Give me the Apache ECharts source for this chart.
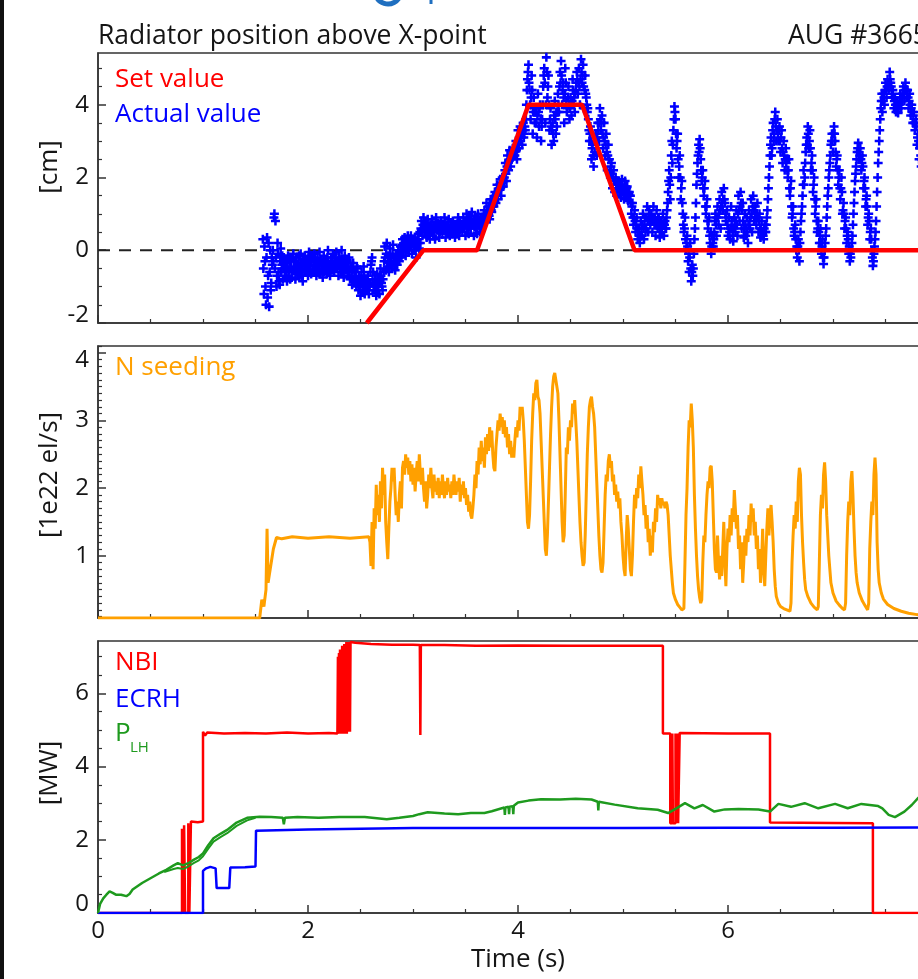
<!DOCTYPE html>
<html><head><meta charset="utf-8">
<script src="https://cdn.jsdelivr.net/npm/echarts@6/dist/echarts.min.js"></script>
<style>html,body{margin:0;padding:0;background:#fff;overflow:hidden}#c{width:918px;height:979px}</style>
</head><body><div id="c"></div>
<script>
// ---------------- DATA ----------------
const timeMin = 0, timeMax = 8;

// Panel 1: radiator position [cm]
const p1Ticks = [-2, 0, 2, 4];
const p1Minor = [-1.5, -1, -0.5, 0.5, 1, 1.5, 2.5, 3, 3.5, 4.5, 5];
const setTime  = [2.56, 3.10, 3.61, 4.10, 4.61, 5.11, 8.0];
const setValue = [-2, 0, 0, 4, 4, 0, 0];
// actual value samples: series A at t = 1.570 + 0.01 i, series B at t = 1.575 + 0.01 i
const actualStartA = 1.57, actualStartB = 1.575, actualStep = 0.01;
const actualValuesA = [
 0.3,-1.2,-0.3,-1.5,0.35,-0.7,-1.55,0.0,-0.9,-0.4,
 -0.3,1.0,0.8,-1.0,0.2,-0.6,-0.95,0.05,-0.4,-0.8,
 -0.2,-0.7,-0.35,-0.85,-0.15,-0.55,-0.8,-0.3,-0.6,-0.1,
 -0.5,-0.8,-0.2,-0.65,-0.35,-0.75,-0.1,-0.5,-0.85,-0.3,
 -0.15,-0.6,-0.35,-0.7,-0.05,-0.45,-0.65,-0.25,-0.55,-0.1,
 -0.4,-0.7,-0.2,-0.55,-0.05,-0.6,-0.3,-0.75,-0.15,-0.5,
 -0.3,-0.65,0.0,-0.45,-0.7,-0.2,-0.55,-0.1,-0.6,-0.35,
 -0.05,-0.5,-0.7,-0.25,-0.6,0.0,-0.4,-0.75,-0.15,-0.55,
 -0.3,-0.7,-0.2,-0.8,-0.5,-0.95,-0.35,-0.85,-0.6,-1.0,
 -0.5,-1.1,-0.7,-1.25,-0.6,-1.0,-0.45,-1.2,-0.8,-1.1,
 -0.7,-1.2,-0.9,-0.4,-0.2,-0.6,-1.1,-0.8,-1.25,-0.65,
 -1.0,-1.2,-0.5,-0.9,-1.1,-0.6,0.1,-0.55,0.2,-0.3,
 -0.6,0.05,-0.3,-0.5,0.15,-0.2,-0.55,-0.1,-0.4,0.0,
 -0.3,0.1,-0.2,0.3,-0.05,0.35,-0.15,0.2,0.4,0.0,
 0.1,0.4,-0.1,0.3,0.0,0.35,-0.2,0.2,0.45,0.05,
 0.2,0.8,0.4,0.9,0.5,0.75,0.35,0.85,0.6,0.3,
 0.5,0.85,0.4,0.7,0.3,0.9,0.55,0.75,0.35,0.65,
 0.8,0.45,0.6,0.9,0.35,0.7,0.5,0.85,0.4,0.65,
 0.45,0.8,0.55,0.35,0.7,0.5,0.9,0.4,0.75,0.6,
 0.5,0.9,0.65,0.4,1.0,0.7,0.45,0.85,0.6,1.05,
 0.7,0.4,0.95,0.6,0.45,1.0,0.75,0.5,0.9,0.65,
 0.7,1.1,0.8,1.3,0.9,1.2,0.85,1.4,1.05,1.35,
 1.2,1.6,1.3,1.8,1.4,1.7,1.95,1.5,2.0,1.75,
 2.0,2.4,1.9,2.6,2.2,2.75,2.3,2.5,2.8,2.6,
 2.6,3.0,2.5,3.3,2.8,3.4,3.1,2.9,3.5,3.2,
 3.3,4.0,4.7,5.1,4.4,3.6,4.8,3.2,4.2,3.5,
 3.8,3.1,4.3,3.4,4.0,3.0,3.6,4.5,5.0,3.5,
 5.3,4.2,4.8,3.3,3.9,2.9,3.5,3.0,4.1,3.2,
 3.4,4.3,3.8,4.9,5.2,4.0,4.6,3.5,5.0,4.1,
 3.9,4.5,3.6,4.2,3.7,4.7,4.0,3.8,4.4,4.9,
 4.3,5.0,4.0,5.25,4.6,5.1,3.9,4.8,4.2,3.8,
 3.6,3.0,3.4,2.5,2.9,2.3,2.7,3.2,2.6,3.5,
 3.0,3.9,3.3,3.7,2.8,3.5,2.6,3.2,2.2,2.9,
 2.5,2.0,2.4,1.7,2.2,1.6,2.0,1.5,1.9,1.7,
 1.8,1.45,1.95,1.6,1.4,1.9,1.55,1.75,1.35,1.6,
 1.5,1.0,1.3,0.7,1.1,0.5,0.9,0.3,0.6,0.2,
 0.8,0.4,1.0,0.3,0.9,0.6,1.2,0.5,1.1,0.7,
 1.0,0.5,1.2,0.7,0.4,1.1,0.6,0.9,0.35,0.8,
 0.5,1.0,0.4,0.8,0.6,1.1,1.6,2.2,1.4,2.6,
 2.4,3.3,3.95,3.6,2.8,3.2,2.0,2.6,1.4,1.9,
 1.0,0.5,0.9,0.0,0.4,-0.3,-0.6,0.2,-0.85,-0.4,
 -0.5,0.3,0.9,1.8,2.4,2.9,3.05,2.5,1.9,2.2,
 1.5,1.9,1.0,1.4,0.6,0.9,0.2,-0.1,0.4,0.1,
 0.5,1.0,0.4,1.2,0.7,1.4,0.6,1.6,1.1,1.7,
 1.3,0.8,1.1,0.4,0.9,0.3,1.2,0.6,0.25,0.9,
 0.5,1.1,0.4,1.5,0.8,1.6,0.6,1.3,0.35,1.0,
 0.4,0.9,0.2,1.1,0.6,1.4,0.5,1.5,0.8,1.2,
 0.7,1.3,0.5,1.0,0.35,0.8,0.5,0.3,0.7,0.5,
 0.9,1.4,2.0,2.6,3.1,2.8,3.5,3.2,3.8,3.0,
 3.6,3.0,3.4,2.7,3.3,2.4,3.0,2.2,2.8,2.5,
 2.0,2.5,1.5,1.9,0.9,1.2,0.4,0.7,0.0,-0.2,
 0.3,-0.3,0.5,1.0,1.5,2.2,2.0,2.7,3.1,3.4,
 2.8,3.3,2.2,2.6,1.6,2.0,1.0,1.4,0.5,0.8,
 0.2,0.6,-0.1,0.3,-0.38,0.0,0.4,0.9,1.5,2.0,
 2.4,2.9,3.2,2.7,3.4,3.0,2.3,2.6,1.8,2.2,
 1.4,2.0,1.0,1.3,0.6,0.9,0.2,0.5,-0.1,-0.3,
 -0.2,0.2,0.7,1.3,1.9,2.3,2.7,2.95,2.5,2.8,
 2.2,2.6,1.7,2.0,1.2,1.5,0.7,1.0,0.3,0.6,
 0.0,-0.43,-0.1,0.3,0.8,1.6,2.4,3.0,3.6,4.1,
 3.8,4.3,4.0,4.6,4.2,4.7,4.4,4.9,4.6,4.3,
 4.4,3.9,4.2,3.8,4.1,3.77,4.0,4.3,3.9,4.1,
 4.5,4.1,4.6,4.2,4.4,3.9,4.3,3.7,4.0,3.5,
 3.8,3.3,3.6,2.9,3.2,2.5,2.8,2.3,2.6,2.0,
 2.2,1.7,2.0,1.5,1.8,1.4
];
const actualValuesB = [
 -0.5,0.1,-1.0,-0.2,-1.3,0.2,-0.6,-1.1,-0.2,0.0,
 0.9,-0.5,-0.2,-0.7,-0.1,-0.85,-0.3,-0.6,-0.15,-0.5,
 -0.5,-0.25,-0.6,-0.45,-0.7,-0.3,-0.5,-0.75,-0.2,-0.45,
 -0.3,-0.55,-0.6,-0.4,-0.15,-0.55,-0.45,-0.7,-0.25,-0.6,
 -0.4,-0.3,-0.5,-0.2,-0.55,-0.3,-0.15,-0.6,-0.4,-0.3,
 -0.55,-0.3,-0.45,-0.35,-0.65,-0.25,-0.5,-0.4,-0.6,-0.3,
 -0.5,-0.2,-0.35,-0.6,-0.4,-0.5,-0.3,-0.45,-0.2,-0.5,
 -0.3,-0.4,-0.2,-0.5,-0.35,-0.6,-0.25,-0.4,-0.5,-0.3,
 -0.5,-0.45,-0.6,-0.35,-0.7,-0.55,-0.8,-0.6,-0.75,-0.45,
 -0.9,-0.75,-1.0,-0.9,-0.8,-1.15,-0.7,-0.95,-1.05,-0.85,
 -0.95,-1.0,-0.6,-0.3,-0.8,-0.95,-1.0,-1.15,-0.9,-1.0,
 -0.8,-0.85,-0.7,-1.0,-0.8,-0.3,-0.2,-0.1,-0.45,-0.15,
 -0.35,-0.2,-0.45,-0.1,-0.3,-0.4,-0.3,-0.25,-0.15,-0.2,
 -0.1,-0.05,0.15,0.0,0.2,0.1,0.25,0.0,0.15,0.3,
 0.25,0.1,0.2,0.15,0.25,0.0,0.1,0.3,0.2,0.5,
 0.6,0.55,0.7,0.6,0.65,0.55,0.7,0.45,0.5,0.7,
 0.65,0.6,0.55,0.5,0.65,0.7,0.6,0.55,0.5,0.75,
 0.6,0.7,0.55,0.65,0.6,0.5,0.7,0.6,0.55,0.6,
 0.65,0.6,0.7,0.55,0.6,0.75,0.65,0.55,0.6,0.7,
 0.7,0.65,0.8,0.75,0.6,0.85,0.7,0.65,0.8,0.75,
 0.8,0.65,0.75,0.8,0.7,0.85,0.6,0.75,0.7,0.8,
 0.9,0.95,1.0,1.05,1.1,0.95,1.15,1.1,1.2,1.25,
 1.4,1.5,1.55,1.6,1.65,1.8,1.7,1.85,1.75,1.9,
 2.2,2.1,2.3,2.4,2.45,2.5,2.6,2.55,2.65,2.7,
 2.8,2.75,2.9,3.0,3.1,3.0,3.2,3.3,3.1,3.4,
 3.6,4.4,4.9,4.6,4.0,4.2,4.4,3.8,3.9,3.8,
 3.5,3.7,3.8,3.9,3.6,3.4,4.0,4.8,4.6,4.0,
 4.9,4.5,4.0,3.6,3.4,3.3,3.2,3.7,3.6,3.8,
 3.8,4.0,4.5,4.6,4.8,4.4,4.2,4.3,4.6,3.8,
 4.2,4.0,3.9,4.0,4.1,4.4,4.2,4.3,4.6,4.7,
 4.6,4.5,4.7,4.9,4.8,4.5,4.4,4.3,4.0,3.9,
 3.3,3.2,3.0,2.8,2.6,2.6,3.0,2.9,3.1,3.3,
 3.5,3.6,3.5,3.2,3.1,3.0,2.9,2.7,2.6,2.5,
 2.2,2.3,2.1,2.0,1.9,1.9,1.8,1.7,1.8,1.6,
 1.65,1.7,1.8,1.7,1.65,1.75,1.7,1.6,1.55,1.5,
 1.3,1.2,0.9,0.9,0.8,0.7,0.6,0.5,0.4,0.4,
 0.6,0.7,0.6,0.7,0.5,0.9,0.8,0.9,0.8,0.9,
 0.8,0.9,0.8,0.9,0.7,0.8,0.9,0.7,0.6,0.6,
 0.7,0.75,0.7,0.6,0.9,1.3,1.9,1.8,2.0,3.0,
 2.9,3.6,3.8,3.2,3.0,2.5,2.3,2.0,1.7,1.3,
 0.7,0.6,0.3,0.2,0.1,-0.1,-0.2,-0.5,-0.6,-0.7,
 -0.1,0.6,1.3,2.1,2.6,2.7,2.8,2.2,2.0,1.7,
 1.7,1.2,1.2,0.8,0.8,0.4,0.5,0.1,0.2,0.3,
 0.8,0.7,0.9,0.9,1.0,1.1,1.2,1.3,1.4,1.4,
 1.0,0.9,0.7,0.6,0.5,0.6,0.8,0.4,0.6,0.7,
 0.8,0.7,1.0,1.1,1.2,1.3,1.1,0.8,0.6,0.7,
 0.6,0.5,0.7,0.8,0.9,1.0,1.2,1.1,1.0,0.9,
 1.0,0.9,0.8,0.6,0.6,0.5,0.4,0.6,0.5,0.7,
 1.1,1.7,2.3,2.9,2.6,3.3,3.0,3.6,3.4,3.3,
 3.2,3.3,3.0,3.1,2.8,2.7,2.6,2.5,2.4,2.2,
 2.2,1.7,1.7,1.2,1.0,0.6,0.5,0.3,0.1,0.1,
 0.0,0.2,0.8,1.2,1.8,1.8,2.4,2.9,2.9,3.2,
 3.0,2.8,2.4,2.2,1.8,1.4,1.2,0.8,0.6,0.5,
 0.4,0.2,0.1,-0.2,-0.2,0.2,0.6,1.2,1.7,2.2,
 2.6,3.0,3.0,3.2,3.2,2.7,2.5,2.2,2.0,1.7,
 1.7,1.6,1.1,1.0,0.8,0.6,0.4,0.3,0.1,-0.1,
 0.0,0.4,1.0,1.6,2.1,2.5,2.8,2.7,2.6,2.5,
 2.4,2.3,1.9,1.7,1.4,1.2,0.9,0.8,0.5,0.3,
 -0.2,-0.3,0.1,0.5,1.2,2.0,2.7,3.3,3.9,4.3,
 4.1,4.2,4.4,4.4,4.5,4.5,4.6,4.7,4.5,4.2,
 4.2,4.1,4.0,4.0,3.9,3.9,4.1,4.1,4.2,4.3,
 4.3,4.4,4.4,4.4,4.2,4.1,4.0,3.9,3.8,3.7,
 3.5,3.5,3.4,3.1,3.0,2.8,2.6,2.5,2.3,2.2,
 2.0,1.9,1.8,1.7,1.6,1.5
];

// Panel 2: N seeding [1e22 el/s]
const p2Ticks = [1, 2, 3, 4];
const nSeeding = [
 [0,0.08],[1.54,0.08],[1.56,0.35],[1.58,0.25],[1.60,0.5],[1.61,1.40],[1.62,0.6],[1.64,0.8],[1.67,1.1],[1.70,1.27],
 [1.75,1.25],[1.85,1.28],[2.0,1.26],[2.2,1.28],[2.4,1.26],[2.58,1.28],[2.59,1.2],[2.60,0.85],[2.61,1.5],[2.62,0.8],
 [2.63,1.7],[2.64,1.4],[2.65,2.05],[2.66,1.6],[2.67,1.9],[2.68,1.5],[2.69,2.1],[2.70,1.7],[2.71,2.3],[2.72,1.9],
 [2.73,2.2],[2.74,1.5],[2.75,1.2],[2.76,0.95],[2.77,1.4],[2.78,1.8],[2.79,2.0],[2.80,2.3],[2.81,2.1],[2.82,2.3],
 [2.83,1.9],[2.84,1.6],[2.85,1.8],[2.86,1.5],[2.87,1.9],[2.88,2.1],[2.89,1.7],[2.90,2.3],[2.91,2.4],[2.92,2.2],
 [2.93,2.5],[2.94,2.3],[2.95,2.45],[2.96,2.2],[2.97,2.4],[2.98,2.1],[2.99,2.35],[3.00,2.05],[3.01,2.3],[3.02,1.95],
 [3.03,2.2],[3.04,2.4],[3.05,2.1],[3.06,2.5],[3.07,2.2],[3.08,2.05],[3.09,2.3],[3.10,2.0],[3.11,1.8],[3.12,2.1],
 [3.13,1.7],[3.14,1.9],[3.15,2.2],[3.16,2.0],[3.17,2.3],[3.18,2.0],[3.19,1.85],[3.20,2.2],[3.21,1.95],[3.22,2.1],
 [3.23,1.9],[3.24,2.15],[3.25,1.85],[3.26,2.1],[3.27,1.9],[3.28,2.2],[3.29,2.0],[3.30,1.85],[3.31,2.1],[3.32,1.9],
 [3.33,2.15],[3.34,1.95],[3.35,2.05],[3.36,1.85],[3.37,2.1],[3.38,1.9],[3.39,2.2],[3.40,2.0],[3.41,1.9],[3.42,2.1],
 [3.43,1.95],[3.44,2.15],[3.45,1.8],[3.46,2.05],[3.47,1.9],[3.48,2.1],[3.49,1.85],[3.50,2.0],[3.51,1.75],[3.52,1.9],
 [3.53,1.65],[3.54,1.8],[3.55,1.6],[3.56,1.55],[3.57,1.7],[3.58,1.9],[3.59,2.2],[3.60,2.0],[3.61,2.4],[3.62,2.2],
 [3.63,2.6],[3.64,2.35],[3.65,2.7],[3.66,2.4],[3.67,2.6],[3.68,2.3],[3.69,2.75],[3.70,2.5],[3.71,2.8],[3.72,2.55],
 [3.73,2.9],[3.74,2.6],[3.75,2.85],[3.76,2.5],[3.77,2.3],[3.78,2.25],[3.79,2.6],[3.80,2.8],[3.81,3.0],[3.82,2.85],
 [3.83,3.1],[3.84,2.9],[3.85,3.05],[3.86,2.8],[3.87,3.0],[3.88,2.75],[3.89,2.9],[3.90,2.6],[3.91,2.8],[3.92,2.5],
 [3.93,2.7],[3.94,2.45],[3.95,2.6],[3.96,2.45],[3.97,2.7],[3.98,2.9],[3.99,2.75],[4.00,3.0],[4.01,2.85],[4.02,3.2],
 [4.03,3.1],[4.04,3.2],[4.05,3.0],[4.06,2.7],[4.07,2.3],[4.08,1.9],[4.09,1.5],[4.10,1.4],[4.11,1.6],[4.12,2.1],
 [4.13,2.7],[4.14,3.1],[4.15,3.4],[4.16,3.3],[4.17,3.55],[4.18,3.6],[4.19,3.35],[4.20,3.3],[4.21,3.1],[4.22,2.7],
 [4.23,2.3],[4.24,1.9],[4.25,1.5],[4.26,1.1],[4.27,1.0],[4.28,1.3],[4.29,1.8],[4.30,2.3],[4.31,2.8],[4.32,3.2],
 [4.33,3.5],[4.34,3.65],[4.35,3.7],[4.36,3.6],[4.37,3.5],[4.38,3.4],[4.39,3.0],[4.40,2.5],[4.41,2.0],[4.42,1.5],
 [4.43,1.2],[4.44,1.3],[4.45,1.9],[4.46,2.6],[4.47,2.5],[4.48,2.9],[4.49,2.7],[4.50,3.0],[4.51,2.9],[4.52,3.25],
 [4.53,3.1],[4.54,3.3],[4.55,3.0],[4.56,2.7],[4.57,2.3],[4.58,1.9],[4.59,1.5],[4.60,1.2],[4.61,1.0],[4.62,0.85],
 [4.63,0.9],[4.64,1.3],[4.65,1.9],[4.66,2.5],[4.67,2.9],[4.68,3.2],[4.69,3.3],[4.70,3.35],[4.71,3.2],[4.72,3.1],
 [4.73,2.9],[4.74,2.5],[4.75,2.1],[4.76,1.7],[4.77,1.3],[4.78,1.0],[4.79,0.8],[4.80,0.75],[4.81,0.9],[4.82,1.4],
 [4.83,1.9],[4.84,2.2],[4.85,2.1],[4.86,2.4],[4.87,2.5],[4.88,2.3],[4.89,2.4],[4.90,2.1],[4.91,2.2],[4.92,1.9],
 [4.93,2.05],[4.94,1.8],[4.95,1.95],[4.96,1.7],[4.97,1.85],[4.98,1.5],[4.99,1.3],[5.00,1.0],[5.01,0.8],[5.02,0.7],
 [5.03,1.2],[5.04,1.6],[5.05,1.4],[5.06,1.1],[5.07,0.8],[5.08,0.7],[5.09,1.0],[5.10,1.5],[5.11,1.9],[5.12,1.7],
 [5.13,2.0],[5.14,1.85],[5.15,2.2],[5.16,2.0],[5.17,2.32],[5.18,2.1],[5.19,1.9],[5.20,1.6],[5.21,1.75],[5.22,1.4],
 [5.23,1.6],[5.24,1.2],[5.25,1.4],[5.26,1.0],[5.27,1.3],[5.28,1.05],[5.29,1.5],[5.30,1.35],[5.31,1.7],[5.32,1.5],
 [5.33,1.9],[5.34,1.75],[5.35,1.85],[5.36,1.7],[5.37,1.85],[5.38,1.75],[5.39,1.8],[5.40,1.7],[5.41,1.8],[5.42,1.75],
 [5.43,1.6],[5.44,1.3],[5.45,1.0],[5.46,0.8],[5.47,0.6],[5.48,0.45],[5.50,0.35],[5.52,0.28],[5.54,0.24],[5.56,0.2],
 [5.58,0.22],[5.59,0.9],[5.60,1.6],[5.61,2.0],[5.62,2.6],[5.63,3.0],[5.64,2.9],[5.65,3.25],[5.66,3.0],[5.67,2.6],
 [5.68,1.9],[5.69,1.4],[5.70,1.0],[5.71,0.7],[5.72,0.5],[5.73,0.38],[5.74,0.3],[5.75,0.35],[5.76,0.9],[5.77,1.3],
 [5.78,1.2],[5.79,1.6],[5.80,1.9],[5.81,2.1],[5.82,2.0],[5.83,2.3],[5.84,2.33],[5.85,2.1],[5.86,1.6],[5.87,1.1],
 [5.88,0.8],[5.89,0.75],[5.90,1.3],[5.91,0.9],[5.92,0.65],[5.93,1.0],[5.94,0.7],[5.95,1.1],[5.96,1.5],[5.97,0.9],
 [5.98,0.55],[5.99,1.1],[6.00,1.4],[6.01,1.2],[6.02,1.6],[6.03,1.3],[6.04,1.7],[6.05,1.5],[6.06,1.97],[6.07,1.7],
 [6.08,1.4],[6.09,1.6],[6.10,1.1],[6.11,1.3],[6.12,0.8],[6.13,1.2],[6.14,0.6],[6.15,0.9],[6.16,1.3],[6.17,1.0],
 [6.18,1.4],[6.19,1.2],[6.20,1.6],[6.21,1.3],[6.22,1.77],[6.23,1.5],[6.24,1.7],[6.25,1.3],[6.26,1.5],[6.27,1.1],
 [6.28,1.3],[6.29,0.8],[6.30,1.1],[6.31,0.6],[6.32,0.9],[6.33,1.4],[6.34,0.8],[6.35,0.55],[6.36,1.0],[6.37,1.4],
 [6.38,1.7],[6.39,1.3],[6.40,1.6],[6.41,1.75],[6.42,1.5],[6.43,1.2],[6.44,0.8],[6.45,0.55],[6.46,0.4],[6.48,0.3],
 [6.50,0.25],[6.53,0.22],[6.56,0.2],[6.59,0.18],[6.60,0.3],[6.61,0.9],[6.62,1.3],[6.63,1.6],[6.64,1.4],[6.65,1.8],
 [6.66,1.5],[6.67,2.1],[6.68,2.3],[6.69,2.2],[6.70,1.6],[6.71,1.2],[6.72,0.9],[6.73,0.65],[6.74,0.5],[6.76,0.4],
 [6.79,0.3],[6.82,0.24],[6.85,0.2],[6.86,0.25],[6.87,0.9],[6.88,1.6],[6.89,1.9],[6.90,1.7],[6.91,2.2],[6.92,2.38],
 [6.93,2.1],[6.94,1.6],[6.95,1.3],[6.96,1.0],[6.97,0.8],[6.98,0.6],[7.00,0.45],[7.03,0.33],[7.06,0.27],[7.09,0.22],
 [7.11,0.2],[7.12,0.3],[7.13,1.0],[7.14,1.5],[7.15,1.8],[7.16,1.6],[7.17,2.1],[7.18,2.25],[7.19,1.9],[7.20,1.4],
 [7.21,1.0],[7.22,0.75],[7.23,0.6],[7.25,0.45],[7.28,0.33],[7.31,0.25],[7.33,0.2],[7.34,0.3],[7.35,1.1],[7.36,1.5],
 [7.37,1.8],[7.38,1.6],[7.39,2.2],[7.40,2.45],[7.41,2.2],[7.42,1.2],[7.43,0.8],[7.44,0.6],[7.46,0.45],[7.48,0.36],
 [7.52,0.28],[7.58,0.22],[7.65,0.18],[7.72,0.15],[7.80,0.13],[7.90,0.12],[8.0,0.12]
];

// Panel 3: heating power [MW]
const p3Ticks = [0, 2, 4, 6];
const p3Minor = [0.5, 1, 1.5, 2.5, 3, 3.5, 4.5, 5, 5.5, 6.5, 7];
const nbi = [
 [0,0],[0.80,0],[0.80,2.3],[0.81,2.3],[0.81,0],[0.82,0],[0.82,2.4],[0.83,2.4],[0.83,0],[0.86,0],[0.86,2.45],[0.87,2.45],[0.87,0],
 [0.885,0],[0.885,2.5],[0.95,2.48],[1.0,2.5],[1.0,4.95],[1.02,4.85],[1.04,4.93],[1.2,4.9],[1.4,4.92],[1.6,4.9],[1.8,4.93],[2.0,4.9],[2.2,4.92],[2.28,4.9],
 [2.285,7.0],[2.29,4.9],[2.295,7.1],[2.30,4.9],[2.305,7.2],[2.31,4.9],[2.315,7.2],[2.32,4.9],[2.325,7.3],[2.33,4.9],[2.335,7.3],[2.34,4.9],
 [2.345,7.35],[2.35,4.9],[2.355,7.35],[2.36,4.9],[2.365,7.4],[2.37,4.9],[2.375,7.4],[2.38,4.95],[2.385,7.4],[2.39,4.95],[2.395,7.4],[2.40,4.95],[2.405,7.4],
 [2.45,7.38],[2.6,7.35],[2.8,7.33],[3.0,7.33],[3.065,7.32],[3.07,4.86],[3.075,7.32],[3.3,7.32],[3.6,7.3],[4.0,7.31],[4.5,7.3],[5.0,7.3],[5.38,7.3],
 [5.38,4.9],[5.45,4.9],[5.45,2.45],[5.47,2.45],[5.47,4.9],[5.475,4.9],[5.475,2.45],[5.50,2.45],[5.50,4.9],[5.505,4.9],[5.505,2.45],
 [5.52,2.45],[5.52,4.9],[5.525,4.9],[5.525,2.45],[5.54,2.45],[5.54,4.92],[6.0,4.9],[6.40,4.9],[6.40,2.47],[7.0,2.46],[7.38,2.45],[7.38,0],[8,0]
];
const ecrh = [
 [0,0],[1.0,0],[1.0,1.15],[1.03,1.22],[1.07,1.26],[1.12,1.22],[1.13,0.68],[1.25,0.68],[1.26,1.24],[1.4,1.25],[1.5,1.27],
 [1.505,2.25],[2.0,2.28],[2.5,2.3],[3.0,2.32],[4.0,2.32],[5.0,2.32],[6.0,2.33],[7.0,2.33],[8.0,2.34]
];
const pLH = [
 [0,0],[0.02,0.25],[0.05,0.4],[0.08,0.5],[0.11,0.59],[0.14,0.55],[0.17,0.5],[0.22,0.5],[0.27,0.46],[0.30,0.52],[0.33,0.64],
 [0.42,0.82],[0.50,0.95],[0.58,1.08],[0.65,1.18],[0.72,1.3],[0.76,1.36],[0.81,1.3],[0.86,1.36],[0.91,1.45],[0.96,1.53],[1.0,1.63],
 [1.05,1.85],[1.10,2.04],[1.17,2.17],[1.23,2.27],[1.32,2.47],[1.42,2.6],[1.54,2.63],[1.65,2.62],[1.76,2.6],[1.77,2.42],[1.78,2.6],
 [1.9,2.62],[2.1,2.6],[2.3,2.62],[2.54,2.62],[2.75,2.56],[2.87,2.6],[3.0,2.65],[3.06,2.7],[3.14,2.75],[3.3,2.72],[3.43,2.7],
 [3.55,2.73],[3.68,2.73],[3.75,2.78],[3.87,2.88],[3.875,2.68],[3.88,2.88],[3.91,2.9],[3.915,2.7],[3.92,2.9],[3.95,2.92],[3.955,2.7],
 [3.96,2.93],[4.0,3.02],[4.1,3.07],[4.22,3.11],[4.4,3.1],[4.55,3.12],[4.70,3.1],[4.76,3.04],[4.765,2.8],[4.77,3.04],[4.92,2.96],
 [5.14,2.86],[5.33,2.82],[5.43,2.73],[5.52,2.88],[5.59,3.0],[5.68,2.86],[5.76,2.95],[5.87,2.77],[5.97,2.83],[6.1,2.84],[6.29,2.83],
 [6.40,2.77],[6.48,2.98],[6.60,2.9],[6.73,3.0],[6.86,2.86],[7.02,2.98],[7.14,2.86],[7.27,2.98],[7.43,2.92],[7.47,2.86],[7.53,2.68],
 [7.59,2.62],[7.68,2.77],[7.75,2.95],[7.81,3.14],[7.9,3.3],[8.0,3.4]
];
const pLH2 = [
 [0.63,1.12],[0.72,1.2],[0.76,1.23],[0.81,1.2],[0.86,1.27],[0.91,1.36],[0.96,1.44],[1.0,1.55],[1.05,1.76],[1.10,1.95],
 [1.17,2.08],[1.23,2.18],[1.32,2.38],[1.42,2.53],[1.5,2.6]
];

// ---------------- CHART ----------------
const FONT = '"Open Sans", "DejaVu Sans", sans-serif';
const INK = '#151515';
const p2Minor = [];
for (let i = 1; i <= 41; i++) { if (i % 10 !== 0) p2Minor.push(i / 10); }

const actualData = actualValuesA.map((v, i) => [+(actualStartA + i * actualStep).toFixed(3), v])
  .concat(actualValuesB.map((v, i) => [+(actualStartB + i * actualStep).toFixed(3), v]));
const setData = setTime.map((t, i) => [t, setValue[i]]);

const grids = [
  { left: 98, top: 53, width: 840, height: 270 },
  { left: 98, top: 346, width: 840, height: 272 },
  { left: 98, top: 641, width: 840, height: 272 }
].map(g => Object.assign(g, { show: true, borderColor: '#333', borderWidth: 1.5, backgroundColor: 'transparent',
  containLabel: false, outerBoundsMode: 'none' }));

function xAx(gi, labels) {
  return {
    type: 'value', gridIndex: gi, min: timeMin, max: timeMax, interval: 2,
    axisLine: { show: true, onZero: false, lineStyle: { color: '#333', width: 1.5 } },
    axisTick: { show: true, inside: true, length: 8, lineStyle: { color: '#333', width: 1.5 } },
    minorTick: { show: true, splitNumber: 4, length: 4, lineStyle: { color: '#333', width: 1.2 } },
    axisLabel: { show: labels, fontSize: 24, fontFamily: FONT, color: INK, margin: 6, showMaxLabel: false },
    splitLine: { show: false }, minorSplitLine: { show: false }
  };
}
function yMajor(gi, min, max, ticks, rich, fmt) {
  return {
    type: 'value', gridIndex: gi, min: min, max: max, position: 'left',
    axisLine: { show: true, onZero: false, lineStyle: { color: '#333', width: 1.5 } },
    axisTick: { show: true, inside: true, length: 8, customValues: ticks, lineStyle: { color: '#333', width: 1.5 } },
    axisLabel: { show: true, customValues: ticks, margin: 9, fontSize: 24, fontFamily: FONT, color: INK,
      formatter: fmt, rich: rich },
    splitLine: { show: false }
  };
}
function yMinor(gi, min, max, ticks) {
  return {
    type: 'value', gridIndex: gi, min: min, max: max, position: 'left',
    axisLine: { show: false },
    axisTick: { show: true, inside: true, length: 4, customValues: ticks, lineStyle: { color: '#333', width: 1.2 } },
    axisLabel: { show: false }, splitLine: { show: false }
  };
}
const baseRich = { n: { fontSize: 24, fontFamily: FONT, color: INK } };
const richP1 = Object.assign({ e: { fontSize: 24, fontFamily: FONT, color: INK, padding: [0, 0, 16, 0] } }, baseRich);
const richP2 = Object.assign({ e: { fontSize: 24, fontFamily: FONT, color: INK, padding: [14, 0, 0, 0] } }, baseRich);
const richP3 = Object.assign({ e: { fontSize: 24, fontFamily: FONT, color: INK, padding: [0, 0, 18, 0] } }, baseRich);

const plusPath = 'path://M3.6,0L6.4,0L6.4,3.6L10,3.6L10,6.4L6.4,6.4L6.4,10L3.6,10L3.6,6.4L0,6.4L0,3.6L3.6,3.6Z';

function txt(text, x, y, color, size, extra) {
  return { type: 'text', x: x, y: y, silent: true,
    style: Object.assign({ text: text, fill: color, fontSize: size || 26, fontFamily: FONT, align: 'left', verticalAlign: 'middle' }, extra || {}) };
}
function vtxt(text, x, y) {
  return { type: 'text', x: x, y: y, rotation: Math.PI / 2, silent: true,
    style: { text: text, fill: INK, fontSize: 26, fontFamily: FONT, align: 'center', verticalAlign: 'middle' } };
}

const option = {
  animation: false,
  backgroundColor: '#fff',
  grid: grids,
  xAxis: [xAx(0, false), xAx(1, false), xAx(2, true)],
  yAxis: [
    yMajor(0, -2, 5.42, p1Ticks, richP1, v => v === -2 ? '{e|-2}' : '{n|' + v + '}'),
    yMinor(0, -2, 5.42, p1Minor),
    yMajor(1, 0.08, 4.1, p2Ticks, richP2, v => v === 4 ? '{e|4}' : '{n|' + v + '}'),
    yMinor(1, 0.08, 4.1, p2Minor),
    yMajor(2, 0, 7.43, p3Ticks, richP3, v => v === 0 ? '{e|0}' : '{n|' + v + '}'),
    yMinor(2, 0, 7.43, p3Minor)
  ],
  series: [
    { type: 'line', xAxisIndex: 0, yAxisIndex: 0, data: [[timeMin, 0], [timeMax, 0]], symbol: 'none',
      lineStyle: { color: '#222', width: 2, type: [12, 9] }, z: 1 },
    { type: 'scatter', xAxisIndex: 0, yAxisIndex: 0, data: actualData, symbol: plusPath, symbolSize: 9,
      large: false, itemStyle: { color: '#0000ff', opacity: 1 }, z: 2 },
    { type: 'line', xAxisIndex: 0, yAxisIndex: 0, data: setData, symbol: 'none',
      lineStyle: { color: '#ff0000', width: 4.5 }, z: 3 },
    { type: 'line', xAxisIndex: 1, yAxisIndex: 2, data: nSeeding, symbol: 'none',
      lineStyle: { color: '#ffa000', width: 3 }, z: 2 },
    { type: 'line', xAxisIndex: 2, yAxisIndex: 4, data: nbi, symbol: 'none',
      lineStyle: { color: '#ff0000', width: 2.5 }, z: 2 },
    { type: 'line', xAxisIndex: 2, yAxisIndex: 4, data: ecrh, symbol: 'none',
      lineStyle: { color: '#0000ff', width: 2.5 }, z: 3 },
    { type: 'line', xAxisIndex: 2, yAxisIndex: 4, data: pLH, symbol: 'none',
      lineStyle: { color: '#1e9a1e', width: 2.5 }, z: 4 },
    { type: 'line', xAxisIndex: 2, yAxisIndex: 4, data: pLH2, symbol: 'none',
      lineStyle: { color: '#1e9a1e', width: 2 }, z: 4 }
  ],
  graphic: [
    { type: 'rect', shape: { x: 0, y: 0, width: 4, height: 979 }, style: { fill: '#111' }, silent: true },
    { type: 'arc', shape: { cx: 388, cy: -9, r: 13, startAngle: 0.3, endAngle: Math.PI - 0.3 }, style: { stroke: '#1f6fc0', lineWidth: 5, fill: null }, silent: true },
    { type: 'line', shape: { x1: 431, y1: 0, x2: 431, y2: 4 }, style: { stroke: '#1f6fc0', lineWidth: 3 }, silent: true },
    txt('Radiator position above X-point', 98, 36, INK, 26.5),
    txt('AUG #36655', 788, 36, INK, 26.5),
    txt('Set value', 115, 80, '#ff0000'),
    txt('Actual value', 115, 115, '#0000ff'),
    txt('N seeding', 115, 368, '#ffa000'),
    txt('NBI', 115, 663, '#ff0000'),
    txt('ECRH', 115, 700, '#0000ff'),
    txt('P', 115, 734, '#1e9a1e'),
    txt('LH', 130, 748, '#1e9a1e', 15),
    vtxt('[cm]', 50, 167),
    vtxt('[1e22 el/s]', 50, 475),
    vtxt('[MW]', 50, 773),
    txt('Time (s)', 518, 960, INK, 26, { align: 'center' })
  ]
};

const chart = echarts.init(document.getElementById('c'), null, { renderer: 'canvas' });
chart.setOption(option);
</script>
</body></html>
